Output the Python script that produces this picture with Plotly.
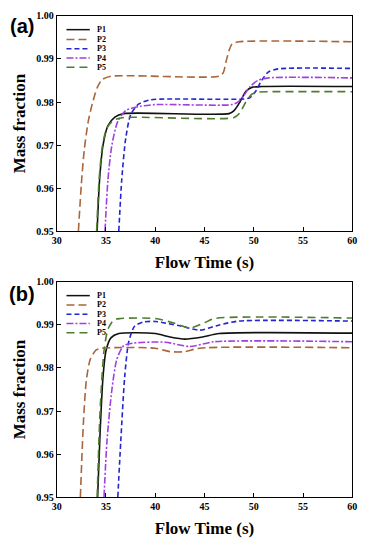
import plotly.graph_objects as go

# ---------------- data: panel (a) ----------------
a_p1_x = [34.1, 34.35, 34.7, 35.2, 35.9, 36.8, 47.5, 48.0, 48.6, 49.2, 49.8, 50.8, 60]
a_p1_y = [0.950, 0.962, 0.970, 0.9745, 0.9765, 0.9773, 0.9773, 0.9780, 0.9800, 0.9825, 0.9834, 0.9836, 0.9836]
a_p2_x = [32.2, 32.5, 32.8, 33.2, 33.6, 34.1, 34.6, 35.5, 46.5, 46.9, 47.2, 47.5, 47.8, 48.5, 60]
a_p2_y = [0.950, 0.961, 0.969, 0.9755, 0.9795, 0.9833, 0.9852, 0.9860, 0.9860, 0.9868, 0.9895, 0.9920, 0.9935, 0.9940, 0.9940]
a_p3_x = [36.3, 36.6, 37.0, 37.5, 38.3, 39.5, 41.0, 49.0, 49.6, 50.2, 50.8, 51.5, 52.5, 60]
a_p3_y = [0.950, 0.962, 0.9715, 0.9770, 0.9795, 0.9805, 0.9807, 0.9807, 0.9810, 0.9825, 0.9850, 0.9870, 0.9877, 0.9878]
a_p4_x = [34.9, 35.2, 35.6, 36.2, 37.0, 38.5, 40.0, 47.8, 48.4, 49.0, 49.6, 50.4, 51.5, 60]
a_p4_y = [0.950, 0.962, 0.970, 0.9755, 0.9780, 0.9790, 0.9794, 0.9794, 0.9800, 0.9815, 0.9835, 0.9850, 0.9856, 0.9856]
a_p5_x = [34.05, 34.3, 34.65, 35.1, 35.8, 36.8, 48.0, 48.6, 49.2, 49.8, 50.5, 51.5, 60]
a_p5_y = [0.950, 0.962, 0.970, 0.9740, 0.9758, 0.9764, 0.9764, 0.9775, 0.9800, 0.9818, 0.9823, 0.9824, 0.9824]

# ---------------- data: panel (b) ----------------
b_p1_x = [34.15, 34.4, 34.7, 35.0, 35.5, 36.3, 40.0, 41.5, 43.0, 44.8, 46.5, 60]
b_p1_y = [0.950, 0.965, 0.978, 0.984, 0.987, 0.9880, 0.9880, 0.9872, 0.9867, 0.9872, 0.9880, 0.9881]
b_p2_x = [32.4, 32.7, 33.0, 33.4, 34.0, 34.6, 40.0, 41.5, 43.0, 44.5, 60]
b_p2_y = [0.950, 0.967, 0.977, 0.982, 0.9842, 0.9846, 0.9846, 0.9838, 0.9838, 0.9846, 0.9847]
b_p3_x = [36.2, 36.5, 36.9, 37.3, 37.9, 38.8, 40.0, 42.5, 44.5, 46.5, 48.5, 60]
b_p3_y = [0.950, 0.963, 0.978, 0.986, 0.9897, 0.9907, 0.9908, 0.9898, 0.9888, 0.9900, 0.9909, 0.9909]
b_p4_x = [34.8, 35.1, 35.6, 36.1, 36.8, 37.8, 41.0, 43.5, 46.0, 60]
b_p4_y = [0.950, 0.963, 0.975, 0.982, 0.9852, 0.9858, 0.9860, 0.9850, 0.9861, 0.9861]
b_p5_x = [34.1, 34.4, 34.8, 35.2, 35.8, 36.5, 40.0, 41.8, 43.5, 45.0, 46.0, 60]
b_p5_y = [0.950, 0.970, 0.984, 0.989, 0.9912, 0.9915, 0.9915, 0.9905, 0.9893, 0.9905, 0.9915, 0.9916]

series_names = ["P1", "P2", "P3", "P4", "P5"]
x_ticks = [30, 35, 40, 45, 50, 55, 60]
y_ticks = [0.95, 0.96, 0.97, 0.98, 0.99, 1.00]
x_title = "Flow Time (s)"
y_title = "Mass fraction"
panel_labels = ["(a)", "(b)"]

# ---------------- styles ----------------
colors = ["#111111", "#A8663A", "#2424D0", "#A040E0", "#4E7D2C"]
dashes = ["solid", "8px,4px", "5px,3px", "7px,2px,2px,2px", "8px,5px"]
SERIF = "Liberation Serif"

fig = go.Figure()
panels = [
    ([a_p1_x, a_p2_x, a_p3_x, a_p4_x, a_p5_x], [a_p1_y, a_p2_y, a_p3_y, a_p4_y, a_p5_y], "x", "y"),
    ([b_p1_x, b_p2_x, b_p3_x, b_p4_x, b_p5_x], [b_p1_y, b_p2_y, b_p3_y, b_p4_y, b_p5_y], "x2", "y2"),
]
for xs_list, ys_list, xa, ya in panels:
    for name, xs, ys, c, d in zip(series_names, xs_list, ys_list, colors, dashes):
        fig.add_trace(go.Scatter(
            x=xs, y=ys, name=name, mode="lines", xaxis=xa, yaxis=ya,
            line=dict(color=c, width=1.6, dash=d, shape="spline", smoothing=0.7),
            showlegend=False, cliponaxis=True,
        ))

# page body has an 8px margin: figure occupies page pixels 8..366 x 8..550
OFF = 8
W, H = 366 - OFF, 550 - OFF

def px(x):
    return (x - OFF) / W

def py(y):
    return 1 - (y - OFF) / H

xdom = [px(53), px(357)]
ydom_a = [py(230), py(10)]
ydom_b = [py(502), py(282)]

def xaxis(anchor):
    return dict(domain=xdom, anchor=anchor, range=[30, 60], tickvals=x_ticks,
                ticks="inside", ticklen=4, tickwidth=1, tickcolor="black",
                showline=True, linecolor="black", linewidth=1.2, mirror=True,
                showgrid=False, zeroline=False,
                tickfont=dict(family=SERIF, size=10, color="black", weight="bold"),
                title=dict(text=x_title, standoff=10,
                           font=dict(family=SERIF, size=17, color="black", weight="bold")))

def yaxis(anchor, dom):
    return dict(domain=dom, anchor=anchor, range=[0.95, 1.0], tickvals=y_ticks,
                tickformat=".2f",
                ticks="inside", ticklen=4, tickwidth=1, tickcolor="black",
                showline=True, linecolor="black", linewidth=1.2, mirror=True,
                showgrid=False, zeroline=False,
                tickfont=dict(family=SERIF, size=10, color="black", weight="bold"),
                title=dict(text=y_title, standoff=6,
                           font=dict(family=SERIF, size=17, color="black", weight="bold")))

fig.update_layout(
    width=W, height=H,
    margin=dict(l=0, r=0, t=0, b=0),
    paper_bgcolor="white", plot_bgcolor="white",
    xaxis=xaxis("y"), yaxis=yaxis("x", ydom_a),
    xaxis2=xaxis("y2"), yaxis2=yaxis("x2", ydom_b),
    showlegend=False,
)

# manual compact legends (line samples + labels), in paper coordinates
legend_rows = [[24, 34, 43.5, 53, 62.5], [296, 305.5, 315, 324.5, 334]]
for rows in legend_rows:
    for name, c, d, ry in zip(series_names, colors, dashes, rows):
        yp = py(ry)
        fig.add_shape(type="line", xref="paper", yref="paper",
                      x0=px(63), x1=px(87), y0=yp, y1=yp,
                      line=dict(color=c, width=1.5, dash=d))
        fig.add_annotation(x=px(92), y=yp, xref="paper", yref="paper", text=name,
                           showarrow=False, xanchor="left", yanchor="middle",
                           font=dict(family=SERIF, size=8, color="black", weight="bold"))

for lab, ry in zip(panel_labels, [20, 294]):
    fig.add_annotation(x=px(17), y=py(ry), xref="paper", yref="paper", text=lab,
                       showarrow=False, xanchor="center", yanchor="middle",
                       font=dict(family="Liberation Sans", size=20, color="black", weight="bold"))

fig.write_html("out.html")
